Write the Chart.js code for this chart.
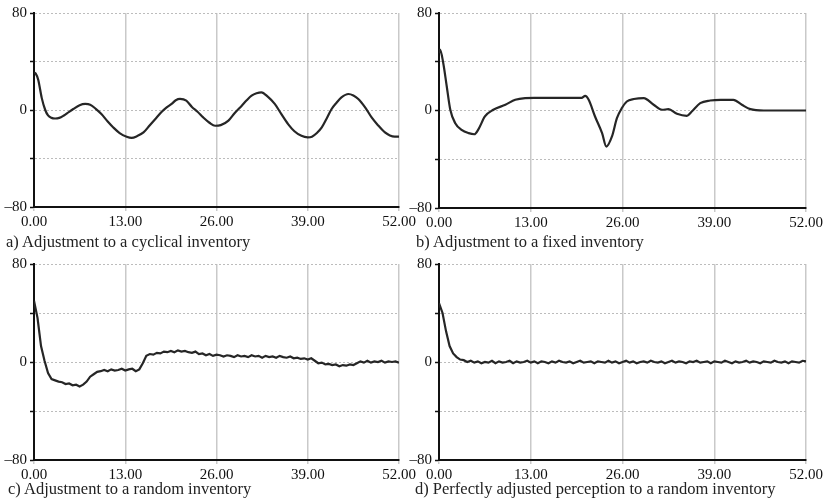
<!DOCTYPE html>
<html>
<head>
<meta charset="utf-8">
<script src="https://cdn.jsdelivr.net/npm/chart.js@4.4.0/dist/chart.umd.min.js"></script>
<style>
  body { margin: 0; background: #fff; }
  #wrap { position: relative; width: 825px; height: 498px; overflow: hidden; }
  canvas { position: absolute; }
  .cap { position: absolute; font-family: "Liberation Serif", serif; font-size: 16.5px; line-height: 18px; color: #222; white-space: nowrap; }
</style>
</head>
<body>
<div id="wrap">
  <canvas id="chartA" width="420" height="235" style="left:0px;top:0px"></canvas>
  <canvas id="chartB" width="420" height="237" style="left:405px;top:0px"></canvas>
  <canvas id="chartC" width="420" height="238" style="left:0px;top:250px"></canvas>
  <canvas id="chartD" width="420" height="238" style="left:405px;top:250px"></canvas>
  <div class="cap" style="left:6px;top:233px">a) Adjustment to a cyclical inventory</div>
  <div class="cap" style="left:416px;top:233px">b) Adjustment to a fixed inventory</div>
  <div class="cap" style="left:8px;top:480px">c) Adjustment to a random inventory</div>
  <div class="cap" style="left:415px;top:480px">d) Perfectly adjusted perception to a random inventory</div>
</div>
<script>
// === Data (weeks on x, deviation on y) ===
const xTicks = [0, 13, 26, 39, 52];
const yTicks = [-80, -40, 0, 40, 80];
const yLabelled = [-80, 0, 80];

// a) cyclical inventory - key points
const cyclicWeeks = [0, 0.25, 0.6, 1.1, 1.6, 2.0, 2.5, 3.0, 3.6, 4.2, 5.0, 5.6, 6.5, 7.3, 8.0, 8.8, 9.6, 10.5, 11.3, 12.2,
  13.2, 13.9, 14.7, 15.6, 16.5, 17.5, 18.2, 18.9, 19.6, 20.2, 20.8, 21.7, 22.5, 23.3, 24.1, 25.0, 25.8, 26.6, 27.7, 28.6,
  29.6, 30.3, 31.0, 31.7, 32.4, 33.3, 34.3, 35.2, 36.2, 37.1, 38.1, 39.0, 39.6, 40.3, 41.0, 41.7, 42.4, 43.1, 43.8, 44.8,
  45.5, 46.2, 47.2, 48.1, 49.0, 50.0, 50.7, 51.4, 52];
const cyclicValues = [31, 30, 25, 10, 0, -4.5, -6.5, -7, -6.5, -4.7, -1.5, 0.8, 4, 5, 4.4, 1, -3.3, -9.5, -14.4, -19,
  -22, -23, -21.5, -18.5, -12.5, -6, -1.5, 2.2, 5, 8, 9.1, 7.7, 2.5, -1.5, -6.1, -10.5, -13, -12.5, -8.8, -2.5,
  3.6, 8, 11.8, 13.8, 14.6, 11, 5, -3, -11.6, -17.5, -21.3, -22.5, -22, -19, -14.4, -7, 0.8, 6, 10.4, 13.2,
  12, 9.1, 2, -6.1, -12.5, -18.5, -21, -22, -22];

// b) fixed inventory - key points
const fixedWeeks = [0, 0.15, 0.6, 1.1, 1.6, 2.3, 3.2, 4.2, 5.0, 5.6, 6.5, 7.7, 9.4, 10.8, 12.2, 13.5, 20.2, 20.7, 21.2, 22.1,
  23.1, 23.7, 24.5, 25.2, 25.9, 26.6, 27.6, 29.0, 30.4, 31.6, 32.5, 33.7, 35.1, 35.8, 37.0, 38.4, 39.9, 41.7, 42.9, 44.1,
  46.0, 52];
const fixedValues = [47, 50, 39, 19.7, 0.6, -10.4, -15.9, -18.6, -19.5, -15.3, -4.9, 0.6, 4.7, 8.8, 10.2, 10.4, 10.4, 12, 8.8, -4.9,
  -18.6, -29.6, -21.3, -6.3, 2, 7.4, 9.4, 10.2, 4.7, 0.6, 1.1, -2.7, -4.4, -0.8, 6, 8.2, 8.8, 8.8, 4.7, 1.1,
  0, 0];

// c) and d) random inventory - one value every half week, 0 .. 52
const halfWeek = 0.5;
const randomValues = [
  50, 36, 13, 1, -9, -14, -15, -16, -16.5, -18,
  -17.5, -19, -18.5, -20, -18.5, -16, -12, -10, -8, -7.5,
  -6.5, -7.5, -6, -7, -6.5, -5.5, -7, -6, -5.5, -7.5,
  -6, -1, 5, 6.5, 6, 7.5, 7, 8.5, 8, 9,
  8, 9.5, 8.5, 9, 8, 7.5, 8.5, 6.5, 7, 5.5,
  6.5, 5, 6, 5.5, 4.5, 5.5, 5, 4, 5.5, 4.5,
  5, 4, 5.5, 4.5, 5, 3.5, 5, 4, 4.5, 3.5,
  5, 4, 3.5, 4.5, 3, 3.5, 2.5, 3, 2, 3,
  1, -1, -0.5, -2, -1.5, -2.5, -2, -3.5, -2.5, -3,
  -2, -2.5, -1, 0.5, -0.5, 1, -0.5, 0.5, 0, 1,
  -0.5, 0.5, 0, 0.5, -0.5
];
const perfectValues = [
  48, 40, 25, 13, 7, 4, 2, 1.5, 0, 1,
  -0.5, 0.5, -1, 0, -0.5, 1, -1, 0.5, -0.5, 0,
  1, -1, 0.5, -0.5, 0, 1, -0.5, 0.5, -1, 0.5,
  0, -1, 0.5, -0.5, 1, 0, -0.5, 0.5, -1, 0,
  1, -0.5, 0, 0.5, -1, 0.5, 0, -0.5, 1, -0.5,
  0.5, -1, 0, 1, -0.5, 0.5, -1, 0, 0.5, -0.5,
  1, 0, -0.5, 0.5, -1, 0, 1, -0.5, 0.5, 0,
  -1, 0.5, 0, 1, -0.5, 0, 0.5, -1, 0.5, 0,
  -0.5, 1, 0, -1, 0.5, -0.5, 0, 1, -0.5, 0.5,
  0, -1, 0.5, 0, -0.5, 1, 0, -0.5, 0.5, -1,
  0.5, 0, -0.5, 1, 0.5
];

// === Chart builder ===
const FONT = { family: '"Liberation Serif", serif', size: 15 };

function pairs(xs, ys) {
  return ys.map((v, i) => ({ x: xs[i], y: v }));
}
function stepped(ys, step) {
  return ys.map((v, i) => ({ x: i * step, y: v }));
}

function makePanel(id, points, smooth, pad, xHeight) {
  return new Chart(document.getElementById(id), {
    type: 'line',
    data: {
      datasets: [{
        data: points,
        borderColor: '#262626',
        borderWidth: 2.2,
        pointRadius: 0,
        fill: false,
        tension: smooth ? 0.4 : 0,
        cubicInterpolationMode: smooth ? 'monotone' : 'default'
      }]
    },
    options: {
      responsive: false,
      animation: false,
      layout: { padding: pad },
      plugins: { legend: { display: false }, tooltip: { enabled: false } },
      scales: {
        x: {
          type: 'linear', min: 0, max: 52,
          afterBuildTicks: s => { s.ticks = xTicks.map(v => ({ value: v })); },
          afterFit: s => { s.height = xHeight; },
          ticks: { color: '#111', font: FONT, padding: 2, maxRotation: 0,
            callback: v => v.toFixed(2) },
          grid: { color: '#c9c9c9', lineWidth: 1.5, tickLength: 4, tickColor: '#c9c9c9' },
          border: { color: '#111', width: 2 }
        },
        y: {
          type: 'linear', min: -80, max: 80,
          afterBuildTicks: s => { s.ticks = yTicks.map(v => ({ value: v })); },
          afterFit: s => { s.width = 34; },
          ticks: { color: '#111', font: FONT, padding: 3,
            callback: v => yLabelled.includes(v) ? (v < 0 ? '\u2013' + Math.abs(v) : String(v)) : '' },
          grid: { color: '#bcbcbc', lineWidth: 1, tickLength: 4, tickColor: '#111', tickWidth: 1.5 },
          border: { color: '#111', width: 2, dash: [2, 2] }
        }
      }
    }
  });
}

makePanel('chartA', pairs(cyclicWeeks, cyclicValues), true, { top: 13, right: 21, left: 0, bottom: 0 }, 28);
makePanel('chartB', pairs(fixedWeeks, fixedValues), true, { top: 13, right: 15, left: 0, bottom: 0 }, 29);
makePanel('chartC', stepped(randomValues, halfWeek), false, { top: 14, right: 21, left: 0, bottom: 0 }, 28);
makePanel('chartD', stepped(perfectValues, halfWeek), false, { top: 14, right: 16, left: 0, bottom: 0 }, 28);
</script>
</body>
</html>
